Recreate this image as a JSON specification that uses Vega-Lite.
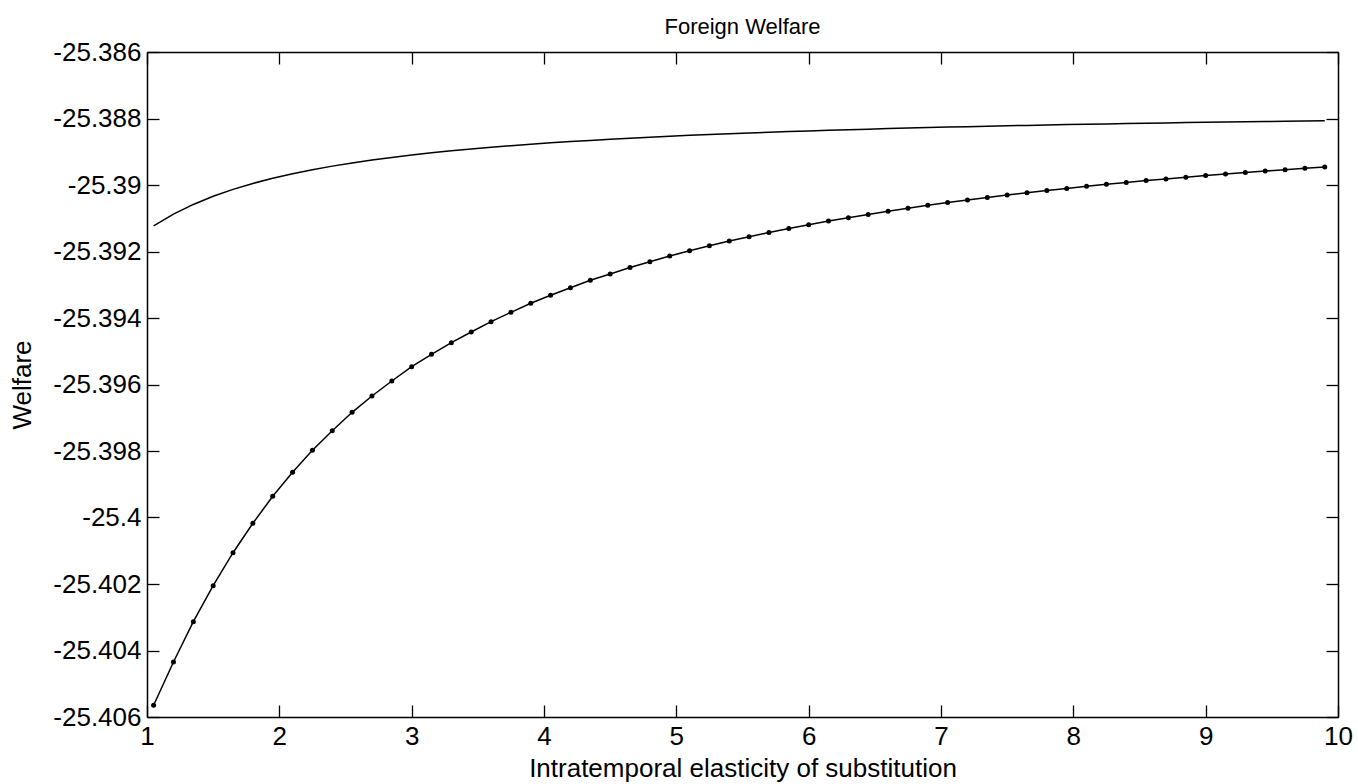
{
  "$schema": "https://vega.github.io/schema/vega-lite/v6.json",
  "width": 1191,
  "height": 665,
  "autosize": {"type": "none"},
  "padding": {"left": 147, "top": 52, "right": 20, "bottom": 67},
  "background": "white",
  "title": {"text": "Foreign Welfare", "font": "Liberation Sans", "fontSize": 22, "fontWeight": "normal", "color": "black", "anchor": "middle", "offset": 0},
  "config": {
    "view": {"stroke": null},
    "axis": {
      "labelFont": "Liberation Sans", "labelFontSize": 26, "labelColor": "black",
      "titleFont": "Liberation Sans", "titleFontSize": 26, "titleFontWeight": "normal", "titleColor": "black",
      "domainColor": "black", "domainWidth": 1.5, "tickColor": "black", "tickWidth": 1.3,
      "tickSize": -12, "grid": false, "labelPadding": 18, "labelOverlap": false, "labelFlush": false
    }
  },
  "data": {"values": [
    {"x": 1.05, "upper": -25.391232, "lower": -25.405648},
    {"x": 1.2, "upper": -25.390878, "lower": -25.404346},
    {"x": 1.35, "upper": -25.390585, "lower": -25.403134},
    {"x": 1.5, "upper": -25.39034, "lower": -25.402051},
    {"x": 1.65, "upper": -25.390132, "lower": -25.401059},
    {"x": 1.8, "upper": -25.389953, "lower": -25.400174},
    {"x": 1.95, "upper": -25.389798, "lower": -25.399362},
    {"x": 2.1, "upper": -25.389661, "lower": -25.398641},
    {"x": 2.25, "upper": -25.38954, "lower": -25.397979},
    {"x": 2.4, "upper": -25.389432, "lower": -25.397389},
    {"x": 2.55, "upper": -25.389336, "lower": -25.396836},
    {"x": 2.7, "upper": -25.389249, "lower": -25.396346},
    {"x": 2.85, "upper": -25.38917, "lower": -25.395895},
    {"x": 3.0, "upper": -25.389098, "lower": -25.395465},
    {"x": 3.15, "upper": -25.389032, "lower": -25.395092},
    {"x": 3.3, "upper": -25.388972, "lower": -25.394743},
    {"x": 3.45, "upper": -25.388916, "lower": -25.394421},
    {"x": 3.6, "upper": -25.388865, "lower": -25.394111},
    {"x": 3.75, "upper": -25.388817, "lower": -25.393829},
    {"x": 3.9, "upper": -25.388773, "lower": -25.393558},
    {"x": 4.05, "upper": -25.388732, "lower": -25.393317},
    {"x": 4.2, "upper": -25.388694, "lower": -25.393089},
    {"x": 4.35, "upper": -25.388658, "lower": -25.392866},
    {"x": 4.5, "upper": -25.388624, "lower": -25.392677},
    {"x": 4.65, "upper": -25.388592, "lower": -25.392481},
    {"x": 4.8, "upper": -25.388562, "lower": -25.392307},
    {"x": 4.95, "upper": -25.388534, "lower": -25.392138},
    {"x": 5.1, "upper": -25.388507, "lower": -25.391979},
    {"x": 5.25, "upper": -25.388482, "lower": -25.391826},
    {"x": 5.4, "upper": -25.388458, "lower": -25.391684},
    {"x": 5.55, "upper": -25.388435, "lower": -25.391555},
    {"x": 5.7, "upper": -25.388414, "lower": -25.391429},
    {"x": 5.85, "upper": -25.388393, "lower": -25.391308},
    {"x": 6.0, "upper": -25.388374, "lower": -25.391194},
    {"x": 6.15, "upper": -25.388355, "lower": -25.391086},
    {"x": 6.3, "upper": -25.388337, "lower": -25.390983},
    {"x": 6.45, "upper": -25.38832, "lower": -25.390884},
    {"x": 6.6, "upper": -25.388304, "lower": -25.390788},
    {"x": 6.75, "upper": -25.388288, "lower": -25.390698},
    {"x": 6.9, "upper": -25.388273, "lower": -25.390611},
    {"x": 7.05, "upper": -25.388259, "lower": -25.390529},
    {"x": 7.2, "upper": -25.388245, "lower": -25.390451},
    {"x": 7.35, "upper": -25.388232, "lower": -25.390376},
    {"x": 7.5, "upper": -25.38822, "lower": -25.390304},
    {"x": 7.65, "upper": -25.388207, "lower": -25.390235},
    {"x": 7.8, "upper": -25.388195, "lower": -25.390165},
    {"x": 7.95, "upper": -25.388184, "lower": -25.390102},
    {"x": 8.1, "upper": -25.388173, "lower": -25.390039},
    {"x": 8.25, "upper": -25.388162, "lower": -25.389979},
    {"x": 8.4, "upper": -25.388152, "lower": -25.389922},
    {"x": 8.55, "upper": -25.388142, "lower": -25.389868},
    {"x": 8.7, "upper": -25.388133, "lower": -25.389817},
    {"x": 8.85, "upper": -25.388123, "lower": -25.389765},
    {"x": 9.0, "upper": -25.388115, "lower": -25.389717},
    {"x": 9.15, "upper": -25.388106, "lower": -25.389669},
    {"x": 9.3, "upper": -25.388097, "lower": -25.389624},
    {"x": 9.45, "upper": -25.388089, "lower": -25.389582},
    {"x": 9.6, "upper": -25.388082, "lower": -25.38954},
    {"x": 9.75, "upper": -25.388074, "lower": -25.389498},
    {"x": 9.9, "upper": -25.388066, "lower": -25.389459}
  ]},
  "layer": [
    {
      "mark": {"type": "line", "color": "black", "strokeWidth": 1.5},
      "encoding": {
        "x": {"field": "x", "type": "quantitative", "scale": {"domain": [1, 10], "nice": false, "zero": false},
              "axis": {"orient": "bottom", "title": "Intratemporal elasticity of substitution", "values": [1,2,3,4,5,6,7,8,9,10], "titlePadding": 6}},
        "y": {"field": "upper", "type": "quantitative", "scale": {"domain": [-25.406, -25.386], "nice": false, "zero": false},
              "axis": {"orient": "left", "title": "Welfare", "values": [-25.406,-25.404,-25.402,-25.4,-25.398,-25.396,-25.394,-25.392,-25.39,-25.388,-25.386], "labelExpr": "toString(datum.value)", "titlePadding": 17}}
      }
    },
    {
      "mark": {"type": "line", "color": "black", "strokeWidth": 1.5},
      "encoding": {
        "x": {"field": "x", "type": "quantitative",
              "axis": {"orient": "top", "title": null, "labels": false, "values": [1,2,3,4,5,6,7,8,9,10]}},
        "y": {"field": "lower", "type": "quantitative",
              "axis": {"orient": "right", "title": null, "labels": false, "values": [-25.406,-25.404,-25.402,-25.4,-25.398,-25.396,-25.394,-25.392,-25.39,-25.388,-25.386]}}
      }
    },
    {
      "mark": {"type": "point", "filled": true, "color": "black", "size": 25, "opacity": 1},
      "encoding": {
        "x": {"field": "x", "type": "quantitative", "axis": null},
        "y": {"field": "lower", "type": "quantitative", "axis": null}
      }
    }
  ],
  "resolve": {"axis": {"x": "independent", "y": "independent"}}
}
